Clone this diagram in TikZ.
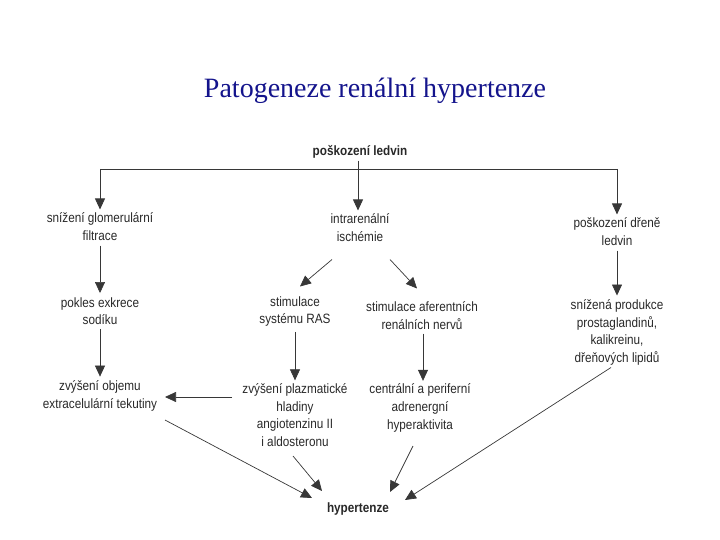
\documentclass[tikz,border=0pt]{standalone}
\usepackage{fontspec}
\setmainfont{Liberation Sans}[FakeStretch=0.87]
\newfontfamily\titlefont{Liberation Serif}
\usetikzlibrary{arrows.meta,calc}
\definecolor{ink}{RGB}{40,40,40}
\definecolor{linec}{RGB}{55,55,55}
\definecolor{titleblue}{RGB}{20,20,140}
\begin{document}
\begin{tikzpicture}[x=1pt,y=-1pt,
  lbl/.style={align=center,inner sep=0pt,text=ink,font=\fontsize{13.5}{17.6}\selectfont},
  blbl/.style={lbl,font=\fontsize{13.5}{17.6}\selectfont\bfseries},
  conn/.style={draw=linec,line width=0.7pt},
  arr/.style={conn,-{Triangle[length=11pt,width=10pt]}}]
\useasboundingbox (0,0) rectangle (720,540);
\node[font=\titlefont\fontsize{28}{32}\selectfont,text=titleblue,inner sep=0pt] (title) at (375,91) {Patogeneze renální hypertenze};
\node[blbl] (top) at (360,152) {poškození ledvin};
\node[lbl] (glom) at (100,226.5) {snížení glomerulární\\filtrace};
\node[lbl] (isch) at (360,227.5) {intrarenální\\ischémie};
\node[lbl] (dren) at (617,231.5) {poškození dřeně\\ledvin};
\node[lbl] (pokles) at (100,311) {pokles exkrece\\sodíku};
\node[lbl] (ras) at (295,311.5) {stimulace\\systému RAS};
\node[lbl] (afer) at (422,315.5) {stimulace aferentních\\renálních nervů};
\node[lbl] (snizena) at (617,332.5) {snížená produkce\\prostaglandinů,\\kalikreinu,\\dřeňových lipidů};
\node[lbl] (objem) at (100,396) {zvýšení objemu\\extracelulární tekutiny};
\node[lbl] (plaz) at (295,415) {zvýšení plazmatické\\hladiny\\angiotenzinu II\\i aldosteronu};
\node[lbl] (centr) at (420,408) {centrální a periferní\\adrenergní\\hyperaktivita};
\node[blbl] (hyp) at (358,509) {hypertenze};
% branching from top
\coordinate (j) at (358,169);
\draw[conn] (j -| glom) -- (j -| dren);
\draw[arr] ($(top.south)+(-2,2)$) -- ($(isch.north)+(-2,-3)$);
\draw[arr] (j -| glom) -- ($(glom.north)+(0,-3)$);
\draw[arr] (j -| dren) -- ($(dren.north)+(0,-3)$);
% second level
\draw[arr] ($(glom.south)+(0,5)$) -- ($(pokles.north)+(0,-4)$);
\draw[arr] ($(isch.center)+(-28,32)$) -- ($(ras.center)+(5,-25)$);
\draw[arr] ($(isch.center)+(30,32)$) -- ($(afer.center)+(-5,-27)$);
\draw[arr] ($(dren.south)+(0,5)$) -- ($(snizena.north)+(0,-4)$);
% third level
\draw[arr] ($(pokles.south)+(0,4)$) -- ($(objem.north)+(0,-4)$);
\draw[arr] ($(ras.south)+(0,5)$) -- ($(plaz.north)+(0,-3)$);
\draw[arr] ($(afer.south)+(1,4)$) -- ($(centr.north)+(3,-3)$);
\draw[arr] ($(plaz.center)+(-63,-18)$) -- ($(objem.center)+(65,1)$);
% to hypertenze
\draw[arr] ($(objem.center)+(65,24)$) -- ($(hyp.center)+(-46,-11)$);
\draw[arr] ($(plaz.center)+(-2,41)$) -- ($(hyp.center)+(-36,-18)$);
\draw[arr] ($(centr.center)+(-7,38)$) -- ($(hyp.center)+(32,-17)$);
\draw[arr] ($(snizena.center)+(-6,35)$) -- ($(hyp.center)+(47,-9)$);
\end{tikzpicture}
\end{document}
